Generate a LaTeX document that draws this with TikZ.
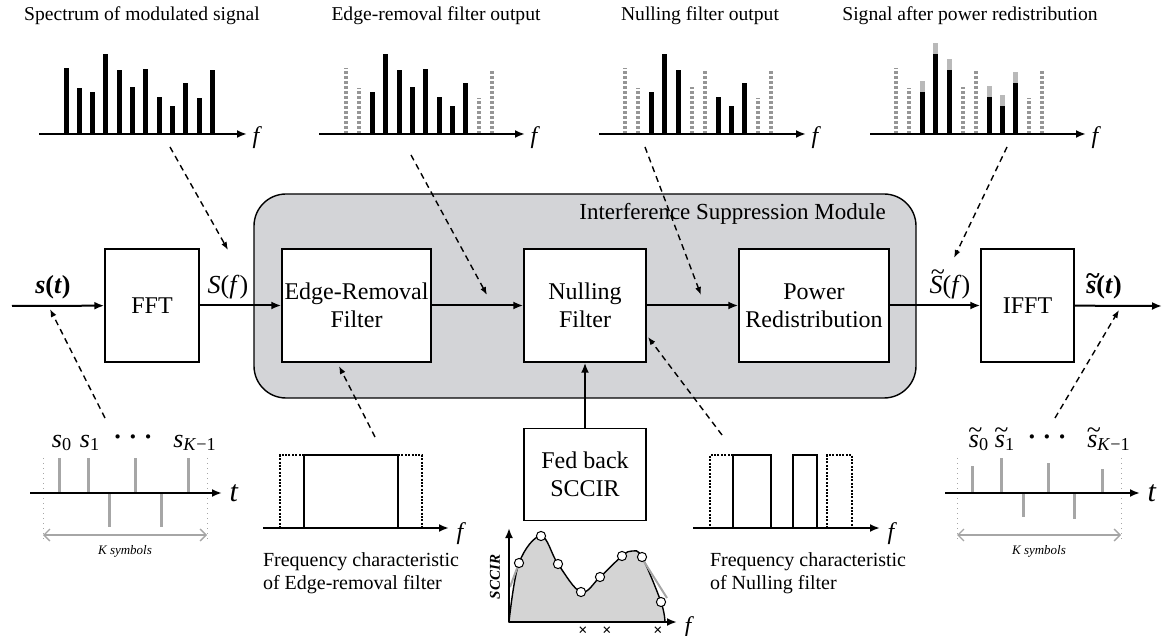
\documentclass[tikz,border=0pt]{standalone}
\usepackage{fontspec}
\setmainfont{Liberation Serif}
\usetikzlibrary{arrows.meta,positioning}
\definecolor{modgray}{RGB}{211,212,215}
\definecolor{sccgray}{RGB}{212,212,212}
\definecolor{nullgray}{RGB}{150,150,150}
% tilde over a letter
\newcommand{\tld}[2]{\ooalign{#2\cr\hidewidth\kern0.12em\raisebox{#1}{\textasciitilde}\hidewidth\cr}}

\begin{document}
\begin{tikzpicture}[x=0.5pt,y=-0.5pt,
blk/.style={
	rectangle,draw=black,fill=white,line width=0.7pt,align=center,
	inner sep=0pt,font=\fontsize{12}{14}\selectfont},
sig/.style={line width=1pt,-{Latex[length=5pt,width=4pt]}},
hint/.style={line width=0.7pt,dash pattern=on 3pt off 2.2pt,
	-{Latex[length=4pt,width=3pt]}},
faxis/.style={line width=1pt,-{Latex[length=5pt,width=4pt]}},
sbar/.style={line width=2.5pt},
nbar/.style={line width=2pt,draw=nullgray,dash pattern=on 1.5pt off 1pt},
gain/.style={line width=2.5pt,draw=gray!55},
stem/.style={line width=1.5pt,draw=gray!70},
bound/.style={line width=0.5pt,draw=gray!70,dotted},
filt/.style={line width=1.3pt},
nfilt/.style={line width=1.3pt,dash pattern=on 1pt off 0.7pt},
ttl/.style={font=\fontsize{9.8}{11.5}\selectfont},
note/.style={font=\fontsize{10}{11.5}\selectfont,align=left},
lbl/.style={font=\fontsize{13}{15}\selectfont},
sym/.style={font=\fontsize{12}{14}\selectfont\itshape},
cnt/.style={font=\fontsize{6.5}{7}\selectfont\itshape}
]
\useasboundingbox (0,0) rectangle (1163,636);

% interference suppression module
\draw[fill=modgray,line width=0.7pt,rounded corners=16pt] (254,194) rectangle (916,398);
\node[anchor=east,font=\fontsize{11.5}{13}\selectfont] (ism) at (893,214) {Interference Suppression Module};

% blocks
\node[blk,minimum width=47pt,minimum height=56.5pt] (fft) at (152,305.5) {FFT};
\node[blk,minimum width=74.5pt,minimum height=56.5pt] (erf) at (356.5,305.5) {Edge-Removal\\Filter};
\node[blk,minimum width=61pt,minimum height=56.5pt] (nul) at (585,305.5) {Nulling\\Filter};
\node[blk,minimum width=75pt,minimum height=56.5pt] (pwr) at (814,305.5) {Power\\Redistribution};
\node[blk,minimum width=46.5pt,minimum height=56.5pt] (ifft) at (1027.5,305.5) {IFFT};
\node[blk,minimum width=61pt,minimum height=46pt,below=32.5pt of nul] (fb) {Fed back\\SCCIR};

% signal path
\coordinate (in) at (12,306);
\coordinate (out) at (1162,306);
\draw[sig] (in) -- (fft);
\draw[sig] (fft) -- (erf);
\draw[sig] (erf) -- (nul);
\draw[sig] (nul) -- (pwr);
\draw[sig] (pwr) -- (ifft);
\draw[sig] (ifft) -- (out);
\draw[sig] (fb) -- (nul);

\node[lbl] (lst) at (53,287) {\textbf{\textit{s}(\textit{t})}};
\node[lbl] (lsf) at (228,287) {\textit{S}(\textit{f}\/)};
\node[lbl] (lrf) at (950,287) {\tld{0.5em}{\textit{S}}(\textit{f}\/)};
\node[lbl] (lrt) at (1104,287) {\textbf{\tld{0.32em}{\textit{s}}(\textit{t})}};

% spectrum of modulated signal
\node[ttl] (t1) at (142,16) {Spectrum of modulated signal};
\foreach \i/\h in {0/68,1/88,2/92,3/54,4/70,5/87,6/69,7/97,8/106,9/83,10/98,11/70}
	\draw[sbar] ({66+13.3*\i},134) -- ({66+13.3*\i},\h);
\draw[faxis] (39,134) -- (247,134) node[sym,anchor=west,xshift=-1pt,yshift=-2pt] (f1) {f};

% edge-removal filter output
\node[ttl] (t2) at (436,16) {Edge-removal filter output};
\foreach \i/\h in {0/68,1/88,10/98,11/70}
	\draw[nbar] ({346+13.3*\i},134) -- ({346+13.3*\i},\h);
\foreach \i/\h in {2/92,3/54,4/70,5/87,6/69,7/97,8/106,9/83}
	\draw[sbar] ({346+13.3*\i},134) -- ({346+13.3*\i},\h);
\draw[faxis] (319,134) -- (525,134) node[sym,anchor=west,xshift=-1pt,yshift=-2pt] (f2) {f};

% nulling filter output
\node[ttl] (t3) at (700,16) {Nulling filter output};
\foreach \i/\h in {0/68,1/88,5/87,6/69,10/98,11/70}
	\draw[nbar] ({625+13.3*\i},134) -- ({625+13.3*\i},\h);
\foreach \i/\h in {2/92,3/54,4/70,7/97,8/106,9/83}
	\draw[sbar] ({625+13.3*\i},134) -- ({625+13.3*\i},\h);
\draw[faxis] (599,134) -- (806,134) node[sym,anchor=west,xshift=-1pt,yshift=-2pt] (f3) {f};

% signal after power redistribution
\node[ttl] (t4) at (970,16) {Signal after power redistribution};
\foreach \i/\h in {0/68,1/88,5/87,6/69,10/98,11/70}
	\draw[nbar] ({896+13.3*\i},134) -- ({896+13.3*\i},\h);
\foreach \i/\h in {2/92,3/54,4/70,7/97,8/106,9/83}{
	\draw[sbar] ({896+13.3*\i},134) -- ({896+13.3*\i},\h);
	\draw[gain] ({896+13.3*\i},\h) -- ({896+13.3*\i},{\h-11});}
\draw[faxis] (870,134) -- (1086,134) node[sym,anchor=west,xshift=-1pt,yshift=-2pt] (f4) {f};

% transmitted symbols
\draw[bound] (43,458) -- (43,540);
\draw[bound] (207,458) -- (207,540);
\foreach \x/\y in {59/458,88/458,109/527,135/458,161/527,188/458}
	\draw[stem] (\x,493) -- (\x,\y);
\draw[faxis] (30,493) -- (222,493) node[anchor=west,font=\fontsize{15}{15}\selectfont\itshape] (tt1) {t};
\node[lbl] (s0) at (62,443) {\textit{s}\textsubscript{0}};
\node[lbl] (s1) at (90,443) {\textit{s}\textsubscript{1}};
\node[lbl] (sd) at (133,440) {\textbf{· · ·}};
\node[lbl] (sk) at (195,443) {\textit{s}\textsubscript{\textit{K}−1}};
\draw[gray!70,line width=0.7pt,{Straight Barb[length=3pt]}-{Straight Barb[length=3pt]}] (43,535) -- (207,535);
\node[cnt] (k1) at (125,551) {K symbols};

% symbols after redistribution
\draw[bound] (957,458) -- (957,540);
\draw[bound] (1121,458) -- (1121,540);
\foreach \x/\y in {972/466,1001/458,1023/517,1048/463,1074/519,1102/469}
	\draw[stem] (\x,493) -- (\x,\y);
\draw[faxis] (945,493) -- (1140,493) node[anchor=west,font=\fontsize{15}{15}\selectfont\itshape] (tt2) {t};
\node[lbl] (r0) at (979,443) {\tld{0.32em}{\textit{s}}\textsubscript{0}};
\node[lbl] (r1) at (1005,443) {\tld{0.32em}{\textit{s}}\textsubscript{1}};
\node[lbl] (rd) at (1047,440) {\textbf{· · ·}};
\node[lbl] (rk) at (1109,443) {\tld{0.32em}{\textit{s}}\textsubscript{\textit{K}−1}};
\draw[gray!70,line width=0.7pt,{Straight Barb[length=3pt]}-{Straight Barb[length=3pt]}] (957,535) -- (1121,535);
\node[cnt] (k2) at (1039,551) {K symbols};

% edge-removal characteristic
\draw[nfilt] (304,455) -- (280,455) -- (280,528);
\draw[nfilt] (398,455) -- (422,455) -- (422,528);
\draw[filt] (304,528) -- (304,455) -- (398,455) -- (398,528);
\draw[faxis] (263,528) -- (449,528) node[sym,anchor=west,yshift=-3pt] (f5) {f};
\node[note,anchor=north west] (fce) at (256,546) {Frequency characteristic\\of Edge-removal filter};

% nulling characteristic
\draw[nfilt] (733,455) -- (710,455) -- (710,528);
\draw[nfilt] (827,528) -- (827,455) -- (852,455) -- (852,528);
\draw[filt] (733,528) -- (733,455) -- (771,455) -- (771,528);
\draw[filt] (793,528) -- (793,455) -- (817,455) -- (817,528);
\draw[faxis] (693,528) -- (880,528) node[sym,anchor=west,yshift=-3pt] (f6) {f};
\node[note,anchor=north west] (fcn) at (703,546) {Frequency characteristic\\of Nulling filter};

% SCCIR curve
\draw[fill=sccgray,line width=0.7pt] plot[smooth,tension=0.6] coordinates {(509,622) (519,563) (541,536) (558,564) (581,592) (600,577) (622,556) (632,551) (642,557) (661,602) (665,622)} -- cycle;
\draw[gray!70,line width=1pt] (510,587) -- (519,563);
\draw[gray!70,line width=1pt] (643,560) -- (667,598);
\foreach \p in {(519,563),(541,536),(558,564),(581,592),(600,577),(622,556),(642,557),(661,602)}
	\draw[fill=white,line width=0.5pt] \p circle (2.3pt);
\draw[faxis] (509,622) -- (509,528);
\draw[faxis] (509,622) -- (677,622) node[sym,anchor=west,yshift=-3pt] (f7) {f};
\node[rotate=90,font=\fontsize{7.5}{8}\selectfont\bfseries\itshape] (scc) at (495,577) {SCCIR};
\foreach \x [count=\n] in {583,607,658}
	\node[font=\fontsize{8}{8}\selectfont\bfseries] (x\n) at (\x,631) {×};

% where the pictures belong
\coordinate (d1s) at (105,418);  \coordinate (d1e) at (50,309);
\coordinate (d2s) at (170,147);  \coordinate (d2e) at (228,250);
\coordinate (d3s) at (411,155);  \coordinate (d3e) at (487,295);
\coordinate (d4s) at (645,147);  \coordinate (d4e) at (701,295);
\coordinate (d5s) at (1007,147); \coordinate (d5e) at (954,258);
\coordinate (d6s) at (375,437);  \coordinate (d6e) at (339,366);
\coordinate (d7s) at (722,435);  \coordinate (d7e) at (648,337);
\coordinate (d8s) at (1055,418); \coordinate (d8e) at (1119,310);
\foreach \k in {1,...,8}
	\draw[hint] (d\k s) -- (d\k e);

\end{tikzpicture}
\end{document}
